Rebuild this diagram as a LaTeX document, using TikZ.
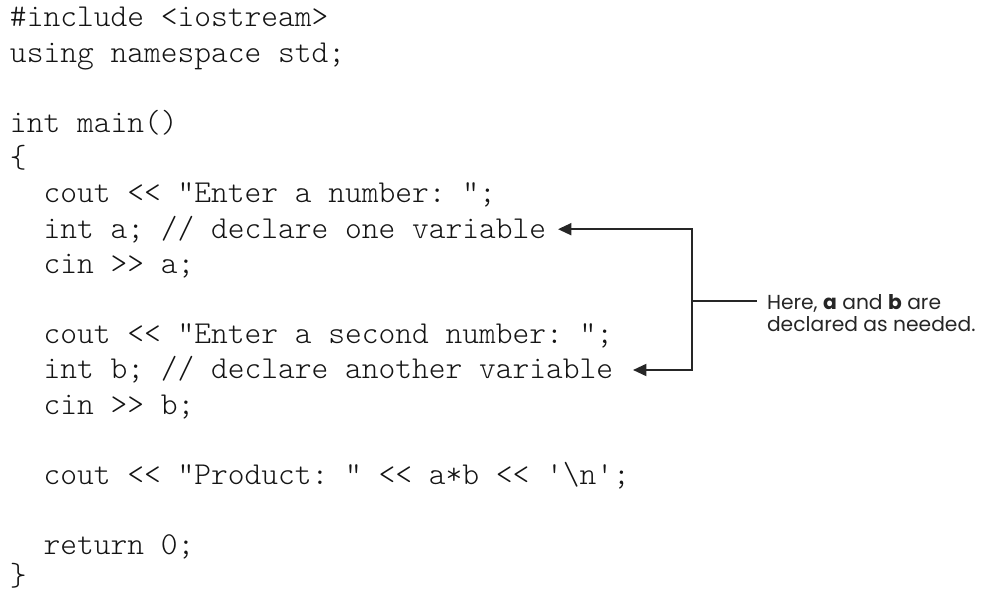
\documentclass[tikz,border=0pt]{standalone}
\usepackage{fontspec}
\setmonofont{Latin Modern Mono Light}
\newfontfamily\notefont{Poppins}
\usetikzlibrary{arrows.meta,calc}

\tikzset{
  codeline/.style={anchor=base west, inner sep=0pt, outer sep=0pt,
    font=\ttfamily\fontsize{23.93pt}{28pt}\selectfont, text=black!92},
  note/.style={anchor=base west, inner sep=0pt, outer sep=0pt,
    font=\notefont\fontsize{15.2pt}{16.8pt}\selectfont, text=black!85, align=left},
  link/.style={line width=1.4pt, draw=black!85},
  pointer/.style={link, -{Triangle[length=10pt,width=9pt]}}
}

\begin{document}
\begin{tikzpicture}[x=0.75pt, y=-0.75pt]
  \useasboundingbox (0,0) rectangle (983,595);

  % program listing, one node per line (baseline step 35.2px)
  \node[codeline] (l1)  at (10,  27.0) {\#include <iostream>};
  \node[codeline] (l2)  at (10,  62.2) {using namespace std;};
  \node[codeline] (l4)  at (10, 132.6) {int main()};
  \node[codeline] (l5)  at (10, 167.8) {\{};
  \node[codeline] (l6)  at (43.5, 203.0) {cout << "Enter a number: ";};
  \node[codeline] (l7)  at (43.5, 238.2) {int a; // declare one variable};
  \node[codeline] (l8)  at (43.5, 273.4) {cin >> a;};
  \node[codeline] (l10) at (43.5, 343.8) {cout << "Enter a second number: ";};
  \node[codeline] (l11) at (43.5, 379.0) {int b; // declare another variable};
  \node[codeline] (l12) at (43.5, 414.2) {cin >> b;};
  \node[codeline] (l14) at (43.5, 484.6) {cout << "Product: " << a*b << '\textbackslash n';};
  \node[codeline] (l16) at (43.5, 555.0) {return 0;};
  \node[codeline] (l17) at (10, 585.5) {\}};

  % annotation (base anchor sits on the last line)
  \node[note] (remark) at (767, 331.5) {Here, \textbf{a} and \textbf{b} are\\declared as needed.};

  % bracket with two pointers into the listing
  \coordinate (fork) at (692, 301);
  \coordinate (forkEnd) at (757, 301);
  \coordinate (tipA) at ($(l7.base east)+(12,-9)$);
  \coordinate (tipB) at ($(l11.base east)+(20,-9)$);
  \coordinate (railTop) at (fork |- tipA);
  \coordinate (railBot) at (fork |- tipB);

  \draw[pointer] (railTop) -- (tipA);
  \draw[pointer] (railBot) -- (tipB);
  \draw[link, line cap=rect] (railTop) -- (railBot);
  \draw[link] (fork) -- (forkEnd);
\end{tikzpicture}
\end{document}
